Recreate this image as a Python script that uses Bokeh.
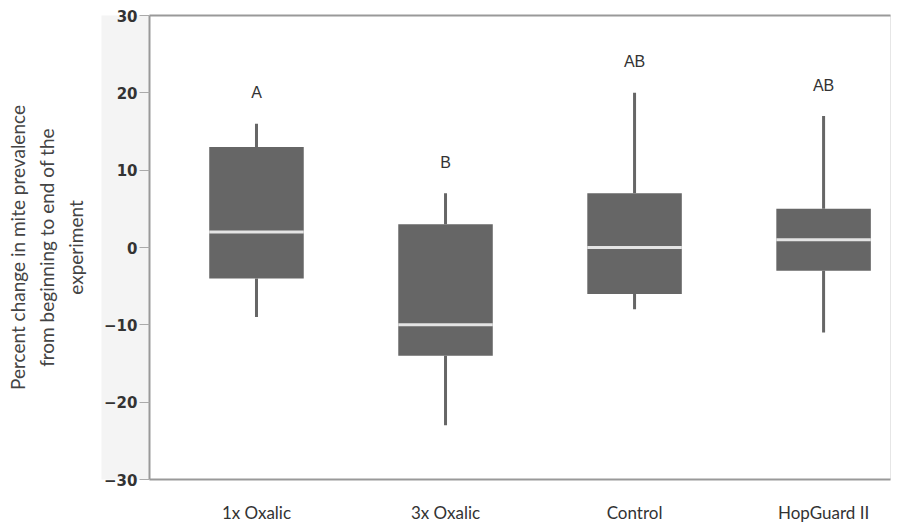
from bokeh.plotting import figure
from bokeh.models import ColumnDataSource, FixedTicker, LinearAxis, Range1d
from bokeh.embed import file_html
from bokeh.resources import INLINE
from bokeh.core.properties import value

categories = ["1x Oxalic", "3x Oxalic", "Control", "HopGuard II"]
whisker_low = [-9, -23, -8, -11]
q1 = [-4, -14, -6, -3]
median = [2, -10, 0, 1]
q3 = [13, 3, 7, 5]
whisker_high = [16, 7, 20, 17]
letters = ["A", "B", "AB", "AB"]
letter_y = [20, 11, 24, 21]
y_ticks = [-30, -20, -10, 0, 10, 20, 30]

pos = [i + 1 for i in range(len(categories))]
src = ColumnDataSource(dict(
    x=pos, lo=whisker_low, q1=q1, med=median, q3=q3, hi=whisker_high,
    letter=letters, ly=letter_y,
    xl=[p - 0.25 for p in pos], xr=[p + 0.25 for p in pos],
))

BOX = "#666666"
p = figure(width=891, height=527, output_backend="svg", toolbar_location=None,
           x_range=Range1d(0.434, 4.354), y_range=Range1d(-30, 30),
           min_border_left=149, min_border_right=1, min_border_top=15,
           min_border_bottom=48)
p.background_fill_color = "white"
p.border_fill_color = "white"
p.outline_line_color = "#e6e6e6"
p.grid.visible = False

# whiskers
p.segment(x0="x", y0="lo", x1="x", y1="q1", source=src, line_color=BOX, line_width=3)
p.segment(x0="x", y0="q3", x1="x", y1="hi", source=src, line_color=BOX, line_width=3)
# boxes
p.vbar(x="x", bottom="q1", top="q3", width=0.5, source=src, fill_color=BOX, line_color=None)
# medians
p.segment(x0="xl", y0="med", x1="xr", y1="med", source=src, line_color="#e4e4e4", line_width=3)
# significance letters
p.text(x="x", y="ly", text="letter", source=src, text_align="center", text_baseline="middle",
       text_font=value("Liberation Sans"), text_font_size="16px", text_color="#333333")

# y axis (ticks and tick labels)
ya = p.yaxis[0]
ya.ticker = FixedTicker(ticks=y_ticks)
ya.major_label_text_font = "DejaVu Sans"
ya.major_label_text_font_style = "bold"
ya.major_label_text_font_size = "15px"
ya.major_label_text_color = "#333333"
ya.axis_line_color = "#999999"
ya.axis_line_width = 2
ya.major_tick_line_color = "#aaaaaa"
ya.major_tick_out = 10
ya.major_tick_in = 0
ya.minor_tick_line_color = None
ya.major_label_standoff = 2
ya.background_fill_color = "#f4f4f4"

# y axis title (separate axis carrying only the label)
la = LinearAxis(ticker=FixedTicker(ticks=[]), major_label_text_font_size="0px",
                axis_line_color=None, major_tick_line_color=None,
                minor_tick_line_color=None)
la.axis_label = "Percent change in mite prevalence\nfrom beginning to end of the\nexperiment"
la.axis_label_text_font = "Lato"
la.axis_label_text_font_style = "normal"
la.axis_label_text_font_size = "19px"
la.axis_label_text_line_height = 1.25
la.axis_label_text_color = "#444444"
la.axis_label_standoff = 15
p.add_layout(la, "left")

# x axis
xa = p.xaxis[0]
xa.ticker = FixedTicker(ticks=pos)
xa.major_label_overrides = {p_: c for p_, c in zip(pos, categories)}
xa.major_label_text_font = "Lato"
xa.major_label_text_font_size = "17px"
xa.major_label_text_color = "#333333"
xa.axis_line_color = "#999999"
xa.axis_line_width = 2
xa.major_tick_line_color = None
xa.minor_tick_line_color = None
xa.major_label_standoff = 16

# top line
ta = LinearAxis(ticker=FixedTicker(ticks=[]), major_label_text_font_size="0px",
                axis_line_color="#999999", axis_line_width=2,
                major_tick_line_color=None, minor_tick_line_color=None)
p.add_layout(ta, "above")

open("out.html", "w").write(file_html(p, INLINE))
